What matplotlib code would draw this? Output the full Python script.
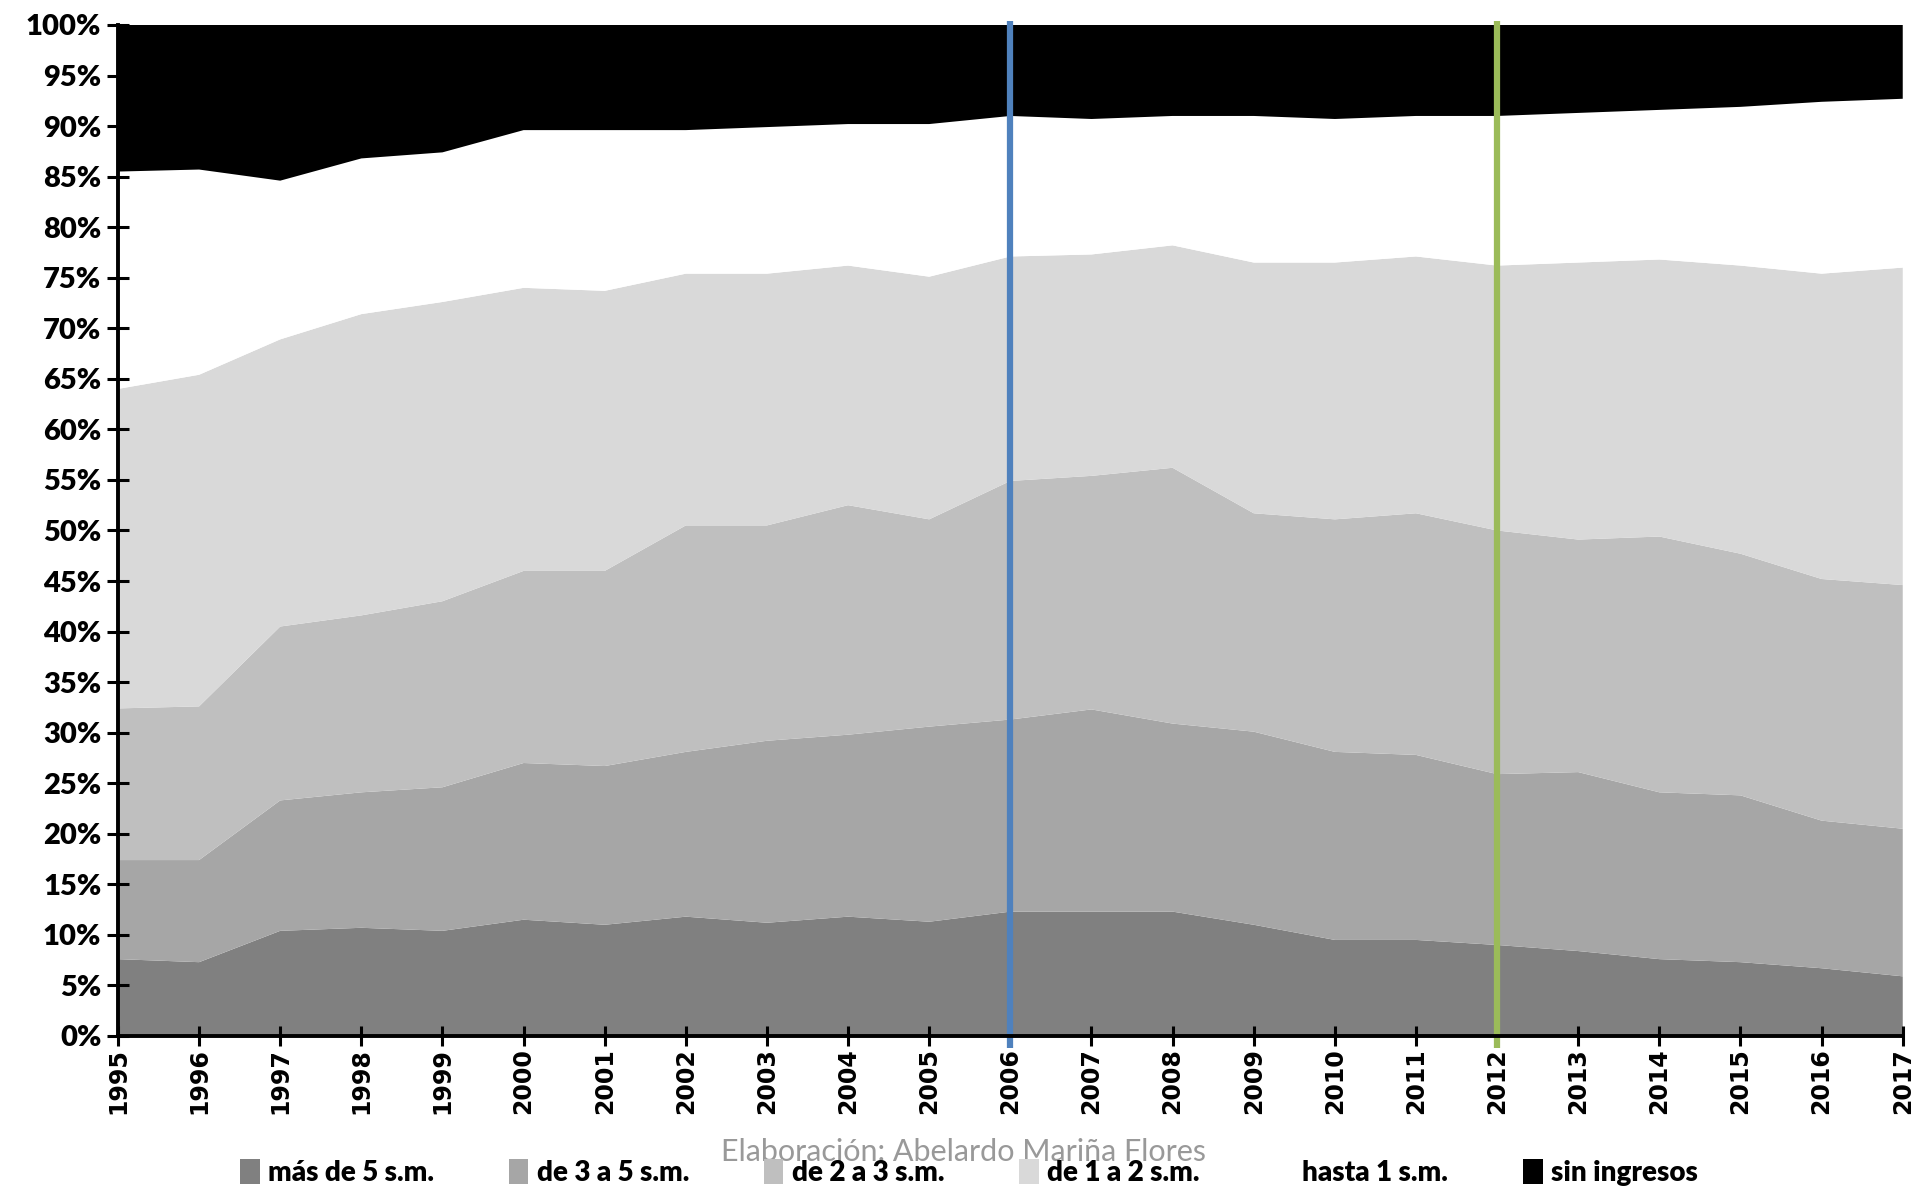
import numpy as np
import matplotlib
matplotlib.use("Agg")
import matplotlib.pyplot as plt
from matplotlib.ticker import FuncFormatter
from matplotlib.patches import Patch

years = list(range(1995, 2018))

mas_5 = [7.6, 7.3, 10.4, 10.7, 10.4, 11.5, 11.0, 11.8, 11.2, 11.8, 11.3,
         12.3, 12.3, 12.3, 11.0, 9.5, 9.5, 9.0, 8.4, 7.6, 7.3, 6.7, 5.9]
de_3_5 = [9.8, 10.1, 12.9, 13.4, 14.2, 15.5, 15.7, 16.3, 18.0, 18.0, 19.3,
          19.0, 20.0, 18.6, 19.1, 18.6, 18.3, 16.9, 17.7, 16.5, 16.5, 14.6, 14.6]
de_2_3 = [15.0, 15.2, 17.2, 17.5, 18.4, 19.0, 19.3, 22.4, 21.3, 22.7, 20.5,
          23.6, 23.1, 25.3, 21.6, 23.0, 23.9, 24.1, 23.0, 25.3, 23.9, 23.9, 24.1]
de_1_2 = [31.6, 32.8, 28.4, 29.8, 29.6, 28.0, 27.7, 24.9, 24.9, 23.7, 24.0,
          22.2, 21.9, 22.0, 24.8, 25.4, 25.4, 26.2, 27.4, 27.4, 28.5, 30.2, 31.4]
hasta_1 = [21.5, 20.3, 15.7, 15.4, 14.8, 15.6, 15.9, 14.2, 14.5, 14.0, 15.1,
           13.9, 13.4, 12.8, 14.5, 14.2, 13.9, 14.8, 14.8, 14.8, 15.7, 17.0, 16.7]
sin_ingresos = [14.5, 14.3, 15.4, 13.2, 12.6, 10.4, 10.4, 10.4, 10.1, 9.8, 9.8,
                9.0, 9.3, 9.0, 9.0, 9.3, 9.0, 9.0, 8.7, 8.4, 8.1, 7.6, 7.3]

labels = ["más de 5 s.m.", "de 3 a 5 s.m.", "de 2 a 3 s.m.",
          "de 1 a 2 s.m.", "hasta 1 s.m.", "sin ingresos"]
colors = ["#808080", "#a6a6a6", "#bfbfbf", "#d9d9d9", "#ffffff", "#000000"]

marked_years = [2006, 2012]
marked_colors = ["#4f81bd", "#9bbb59"]

narrow = ["Lato", "DejaVu Sans"]

fig = plt.figure(figsize=(19.15, 11.89), dpi=100)
ax = fig.add_axes([0.0616, 0.1287, 0.932, 0.8503])

series = [mas_5, de_3_5, de_2_3, de_1_2, hasta_1, sin_ingresos]
ax.stackplot(years, *series, colors=colors, linewidth=0)

for yr, c in zip(marked_years, marked_colors):
    ax.vlines(yr, -1.2, 100.4, color=c, linewidth=4.5, clip_on=False, zorder=5)

ax.set_xlim(1995, 2017)
ax.set_ylim(0, 100)

ax.set_yticks(range(0, 101, 5))
ax.yaxis.set_major_formatter(FuncFormatter(lambda v, p: f"{int(v)}%"))
ax.set_xticks(years)
ax.set_xticklabels([str(y) for y in years], rotation=90,
                   fontsize=17, fontweight="bold", family="DejaVu Sans")
for t in ax.get_yticklabels():
    t.set_family(narrow)
    t.set_fontsize(21)
    t.set_fontweight("heavy")

ax.tick_params(axis="y", direction="inout", length=16, width=2.2, pad=4)
ax.tick_params(axis="x", direction="inout", length=14, width=2.2, pad=2)

for s in ["top", "right"]:
    ax.spines[s].set_visible(False)
for s in ["left", "bottom"]:
    ax.spines[s].set_linewidth(2.8)
    ax.spines[s].set_zorder(6)

handles = [Patch(facecolor=c, edgecolor="none") for c in colors]
fig.legend(handles, labels, loc="center", bbox_to_anchor=(0.506, 0.0135),
           ncol=6, frameon=False, handlelength=0.7, handleheight=1.0,
           handletextpad=0.3, columnspacing=2.7,
           prop={"family": narrow, "size": 20, "weight": "heavy"})

fig.text(0.503, 0.031, "Elaboración: Abelardo Mariña Flores", ha="center",
         va="center", color="#999999", fontsize=22, family=narrow)

fig.savefig("out.png", dpi=100)
